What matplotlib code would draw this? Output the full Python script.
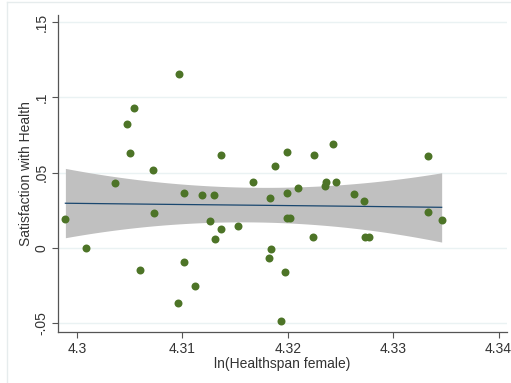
import matplotlib
matplotlib.use("Agg")
import matplotlib.pyplot as plt
import numpy as np
from matplotlib.lines import Line2D

plt.rcParams['font.family'] = ['Liberation Sans', 'DejaVu Sans']

# data
healthspan = [4.2989, 4.3009, 4.3036, 4.3047, 4.3050, 4.3054, 4.3060, 4.3072,
              4.3073, 4.3096, 4.3097, 4.3102, 4.3102, 4.3112, 4.3119, 4.3126,
              4.3130, 4.3131, 4.3137, 4.3137, 4.3153, 4.3167, 4.3182, 4.3183,
              4.3184, 4.3188, 4.3194, 4.3197, 4.3199, 4.3199, 4.3199, 4.3202,
              4.3210, 4.3224, 4.3225, 4.3235, 4.3236, 4.3243, 4.3246, 4.3263,
              4.3272, 4.3273, 4.3277, 4.3333, 4.3333, 4.3346]
satisfaction = [0.0195, 0.0000, 0.0430, 0.0821, 0.0629, 0.0928, -0.0146, 0.0518,
                0.0234, -0.0365, 0.1157, 0.0367, -0.0093, -0.0252, 0.0352, 0.0176,
                0.0352, 0.0058, 0.0618, 0.0129, 0.0144, 0.0440, -0.0064, 0.0329,
                -0.0009, 0.0546, -0.0487, -0.0161, 0.0635, 0.0364, 0.0198, 0.0198,
                0.0400, 0.0074, 0.0618, 0.0412, 0.0435, 0.0691, 0.0440, 0.0359,
                0.0314, 0.0072, 0.0072, 0.0609, 0.0238, 0.0189]

# fitted line and 95% band
fit_x = [4.2989, 4.3080, 4.3180, 4.3260, 4.3346]
fit_y = [0.0297, 0.0290, 0.0283, 0.0277, 0.0270]
ci_lo = [0.0073, 0.0140, 0.0175, 0.0140, 0.0035]
ci_hi = [0.0527, 0.0440, 0.0400, 0.0425, 0.0500]

xticks = [4.30, 4.31, 4.32, 4.33, 4.34]
xticklabels = ['4.3', '4.31', '4.32', '4.33', '4.34']
yticks = [-0.05, 0, 0.05, 0.1, 0.15]
yticklabels = ['-.05', '0', '.05', '.1', '.15']

fig = plt.figure(figsize=(5.11, 3.83), dpi=100)
ax = fig.add_axes([58/511, 51/383, 449/511, 317/383])

# smooth band through the read points
xs = np.linspace(fit_x[0], fit_x[-1], 100)
lo = np.poly1d(np.polyfit(fit_x, ci_lo, 2))(xs)
hi = np.poly1d(np.polyfit(fit_x, ci_hi, 2))(xs)
ax.fill_between(xs, lo, hi, color='#c0c0c0', lw=0, zorder=1)
ax.plot(fit_x, fit_y, color='#1a476f', lw=0.9, zorder=2)
ax.scatter(healthspan, satisfaction, s=33, color='#4d7427', lw=0, zorder=3)

ax.set_xlim(4.2982, 4.3408)
ax.set_ylim(-0.0558, 0.1547)
ax.set_xticks(xticks)
ax.set_xticklabels(xticklabels)
ax.set_yticks(yticks)
ax.set_yticklabels(yticklabels, rotation=90, va='center')
ax.yaxis.grid(True, color='#eaf2f3', lw=1)
ax.set_axisbelow(True)
for s in ['top', 'right']:
    ax.spines[s].set_visible(False)
for s in ['left', 'bottom']:
    ax.spines[s].set_color('#555555')
    ax.spines[s].set_linewidth(0.9)
ax.tick_params(length=4, width=0.8, color='#555555', labelsize=10, labelcolor='#333333', pad=3)
ax.set_xlabel('ln(Healthspan female)', fontsize=10, color='#333333', labelpad=1)
ax.set_ylabel('Satisfaction with Health', fontsize=10, color='#333333', labelpad=1)

# faint graph region border
fig.add_artist(Line2D([7/511, 1], [1 - 1.5/383, 1 - 1.5/383], color='#e6eced', lw=1))
fig.add_artist(Line2D([7/511, 7/511], [0, 1 - 1.5/383], color='#e6eced', lw=1))

fig.savefig('out.png', dpi=100)
